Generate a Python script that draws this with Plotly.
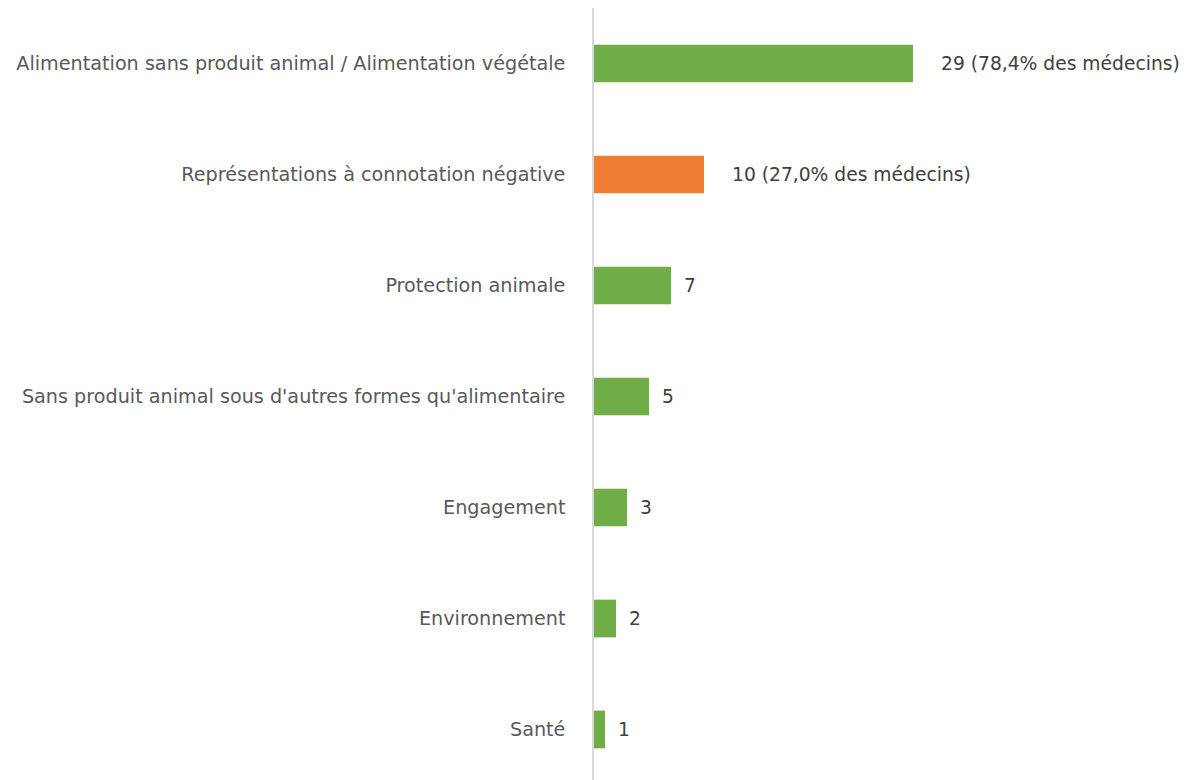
import plotly.graph_objects as go

categories = [
    "Alimentation sans produit animal / Alimentation végétale",
    "Représentations à connotation négative",
    "Protection animale",
    "Sans produit animal sous d'autres formes qu'alimentaire",
    "Engagement",
    "Environnement",
    "Santé",
]
values = [29, 10, 7, 5, 3, 2, 1]
value_labels = ["29 (78,4% des médecins)", "10 (27,0% des médecins)", "7", "5", "3", "2", "1"]
bar_colors = ["#70ad47", "#ed7d31", "#70ad47", "#70ad47", "#70ad47", "#70ad47", "#70ad47"]

FONT = "DejaVu Sans"

fig = go.Figure()
fig.add_trace(go.Bar(
    x=values,
    y=categories,
    orientation="h",
    marker=dict(color=bar_colors, line=dict(width=0)),
    width=0.34,
    hoverinfo="skip",
))

for cat, v, lab in zip(categories, values, value_labels):
    fig.add_annotation(
        x=v, y=cat, text=lab, showarrow=False,
        xanchor="left", yanchor="middle",
        xshift=26 if "%" in lab else 11,
        font=dict(family=FONT, size=18.7, color="#404040"),
    )

fig.update_layout(
    width=1183, height=772,
    margin=dict(l=586, r=20, t=0, b=0),
    plot_bgcolor="white", paper_bgcolor="white",
    showlegend=False,
    xaxis=dict(range=[0, 52.45], showgrid=False, zeroline=False,
               showticklabels=False, showline=False, fixedrange=True),
    yaxis=dict(type="category", categoryarray=categories,
               range=[6.455, -0.5], showgrid=False, zeroline=False,
               showline=True, linecolor="#d9d9d9", linewidth=1.5,
               ticks="", ticklabelstandoff=23,
               tickfont=dict(family=FONT, size=19.2, color="#595959")),
)

fig.write_html("out.html")
